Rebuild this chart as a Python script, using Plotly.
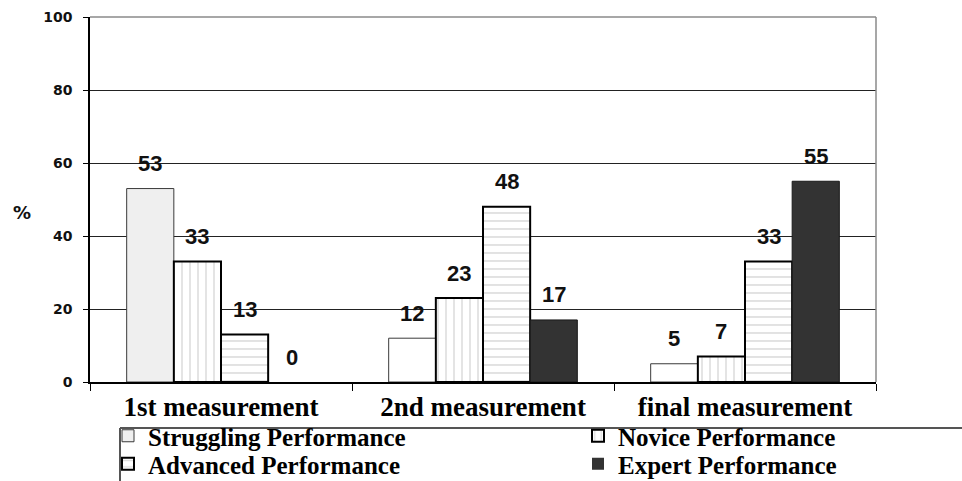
import plotly.graph_objects as go

# ---- data -------------------------------------------------------------
categories = ["1st measurement", "2nd measurement", "final measurement"]
series_names = [
    "Struggling Performance",
    "Novice Performance",
    "Advanced Performance",
    "Expert Performance",
]
struggling = [53, 12, 5]
novice = [33, 23, 7]
advanced = [13, 48, 33]
expert = [0, 17, 55]
y_ticks = [0, 20, 40, 60, 80, 100]

# ---- geometry / style ---------------------------------------------------
W, H = 962, 481
M_L, M_R, M_T, M_B = 90, 86, 17, 99
PLOT_W = W - M_L - M_R
PLOT_H = H - M_T - M_B
BARGAP = 0.28


def px_x(p):
    """pixel column -> paper x"""
    return (p - M_L) / PLOT_W


def px_y(p):
    """pixel row -> paper y"""
    return (H - M_B - p) / PLOT_H


serif = "Liberation Serif"
sans = "Liberation Sans"
verdana_like = "DejaVu Sans"

fig = go.Figure()

fig.add_bar(
    x=categories, y=struggling, name=series_names[0], legend="legend",
    marker=dict(color=["#efefef", "#ffffff", "#ffffff"],
                line=dict(color="#3a3a3a", width=1)),
)
fig.add_bar(
    x=categories, y=novice, name=series_names[1], legend="legend2",
    marker=dict(color="#ffffff", line=dict(color="#000000", width=2),
                pattern=dict(shape="|", fgcolor="#bcbcbc", bgcolor="#ffffff",
                             size=8, solidity=0.2)),
)
fig.add_bar(
    x=categories, y=advanced, name=series_names[2], legend="legend3",
    marker=dict(color="#ffffff", line=dict(color="#000000", width=2),
                pattern=dict(shape="-", fgcolor="#b8b8b8", bgcolor="#ffffff",
                             size=8, solidity=0.2)),
)
# no outline on a zero-height bar
fig.add_bar(
    x=categories, y=expert, name=series_names[3], legend="legend4",
    marker=dict(color="#333333",
                line=dict(color="#1a1a1a", width=[0 if v == 0 else 1 for v in expert])),
)

# value labels floating above each bar
all_series = [struggling, novice, advanced, expert]
n = len(all_series)
slot = (1 - BARGAP) / n
for si, vals in enumerate(all_series):
    for ci, v in enumerate(vals):
        fig.add_annotation(
            x=ci + (si - (n - 1) / 2) * slot, y=v, xref="x", yref="y",
            text=str(v), showarrow=False, yanchor="middle", yshift=25,
            font=dict(family=sans, size=22, color="#111111", weight="bold"),
        )

# "%" axis caption
fig.add_annotation(
    x=px_x(22), y=px_y(212), xref="paper", yref="paper", text="%",
    showarrow=False, xanchor="center", yanchor="middle",
    font=dict(family=verdana_like, size=18, color="#111111", weight="bold"),
)

# grey frame on top and right of the plotting area
frame = dict(color="#8a8a8a", width=1.5)
fig.add_shape(type="line", xref="paper", yref="paper", x0=0, x1=1, y0=1, y1=1,
              line=frame, layer="above")
fig.add_shape(type="line", xref="paper", yref="paper", x0=1, x1=1, y0=0, y1=1,
              line=frame, layer="above")

# legend box edges (top and left)
box = dict(color="#555555", width=2)
fig.add_shape(type="line", xref="paper", yref="paper",
              x0=px_x(120), x1=px_x(W + 5), y0=px_y(428), y1=px_y(428), line=box)
fig.add_shape(type="line", xref="paper", yref="paper",
              x0=px_x(120), x1=px_x(120), y0=px_y(428), y1=px_y(H + 5), line=box)

legend_font = dict(family=serif, size=25, color="#000000", weight="bold")
legend_common = dict(orientation="v", font=legend_font, bgcolor="rgba(0,0,0,0)",
                     borderwidth=0, xanchor="left", yanchor="middle",
                     itemclick=False, itemdoubleclick=False)

fig.update_layout(
    width=W, height=H, autosize=False,
    margin=dict(l=M_L, r=M_R, t=M_T, b=M_B, pad=0, autoexpand=False),
    paper_bgcolor="#ffffff", plot_bgcolor="#ffffff",
    barmode="group", bargap=BARGAP, bargroupgap=0,
    showlegend=True,
    legend=dict(x=px_x(108), y=px_y(436), **legend_common),
    legend2=dict(x=px_x(578), y=px_y(436), **legend_common),
    legend3=dict(x=px_x(108), y=px_y(464), **legend_common),
    legend4=dict(x=px_x(578), y=px_y(464), **legend_common),
    xaxis=dict(
        type="category", showline=True, linecolor="#000000", linewidth=1.5,
        ticks="outside", tickson="boundaries", ticklen=7, tickcolor="#000000",
        tickwidth=1, showgrid=False, zeroline=False,
        tickfont=dict(family=serif, size=27, color="#000000", weight="bold"),
    ),
    yaxis=dict(
        range=[0, 100], tickvals=y_ticks, showline=True, linecolor="#000000",
        linewidth=1.5, ticks="outside", ticklen=5, tickcolor="#000000",
        showgrid=True, gridcolor="#222222", gridwidth=1, zeroline=False,
        ticklabelstandoff=8,
        tickfont=dict(family=verdana_like, size=14, color="#111111", weight="bold"),
    ),
)

fig.write_html("out.html")
